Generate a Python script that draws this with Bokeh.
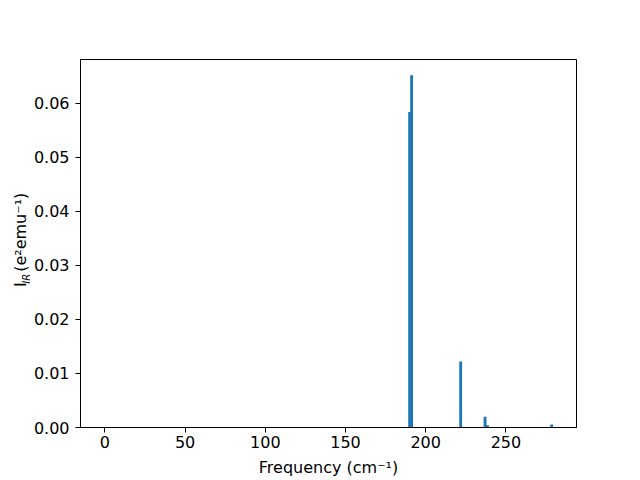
from math import pi
from bokeh.plotting import figure
from bokeh.layouts import row
from bokeh.models import Range1d, FixedTicker, NumeralTickFormatter, ColumnDataSource
from bokeh.core.properties import value
from bokeh.embed import file_html
from bokeh.resources import INLINE

# Data
freqs = [0.0, 190.0, 191.2, 221.8, 237.0, 238.5, 278.5]
intensities = [0.0, 0.0584, 0.0652, 0.0122, 0.0020, 0.0004, 0.00056]
x_ticks = [0, 50, 100, 150, 200, 250]
y_ticks = [0.00, 0.01, 0.02, 0.03, 0.04, 0.05, 0.06]
x_label = "Frequency (cm\u207b\u00b9)"
y_label_main = "I"
y_label_sub = "IR"
y_label_rest = "(e\u00b2emu\u207b\u00b9)"

FONT = "DejaVu Sans"
FS = "16px"

# ---- narrow panel holding the rotated y-axis title (pixel-like coordinates) ----
lab = figure(width=30, height=480, output_backend="svg", toolbar_location=None,
             x_range=Range1d(0, 30), y_range=Range1d(0, 480),
             x_axis_location=None, y_axis_location=None, min_border=0)
lab.outline_line_color = None
lab.xgrid.visible = False
lab.ygrid.visible = False
lab.background_fill_color = "white"
lab.border_fill_color = "white"
lab.text(x=[20, 20], y=[183.4, 203], text=[y_label_main, y_label_rest], angle=pi / 2,
         text_font=value(FONT), text_font_size=value(FS), text_color="black",
         text_baseline="alphabetic", text_align="left")
lab.text(x=[25.5], y=[187.5], text=[y_label_sub], angle=pi / 2,
         text_font=value(FONT), text_font_size=value("10px"), text_font_style="italic",
         text_color="black", text_baseline="alphabetic", text_align="left")

# ---- main plot ----
src = ColumnDataSource(dict(x=freqs, top=intensities))

p = figure(width=610, height=480, output_backend="svg", toolbar_location=None,
           x_range=Range1d(-15.2, 294.0), y_range=Range1d(0, 0.0681),
           min_border_left=50, min_border_right=64, min_border_top=59,
           min_border_bottom=53)
p.background_fill_color = "white"
p.border_fill_color = "white"
p.outline_line_color = "black"
p.outline_line_width = 1
p.xgrid.visible = False
p.ygrid.visible = False

p.vbar(x="x", top="top", bottom=0, width=1.8, source=src,
       fill_color="#1f77b4", line_color=None)

for ax in (p.xaxis[0], p.yaxis[0]):
    ax.axis_line_color = "black"
    ax.major_tick_line_color = "black"
    ax.major_tick_out = 5
    ax.major_tick_in = 0
    ax.minor_tick_line_color = None
    ax.major_label_text_font = FONT
    ax.major_label_text_font_size = FS
    ax.major_label_text_color = "black"

p.xaxis.major_label_standoff = 3
p.yaxis.major_label_standoff = 6
p.xaxis.ticker = FixedTicker(ticks=x_ticks)
p.yaxis.ticker = FixedTicker(ticks=y_ticks)
p.yaxis.formatter = NumeralTickFormatter(format="0.00")

p.xaxis.axis_label = x_label
p.xaxis.axis_label_text_font = FONT
p.xaxis.axis_label_text_font_size = FS
p.xaxis.axis_label_text_font_style = "normal"
p.xaxis.axis_label_text_color = "black"
p.xaxis.axis_label_standoff = 7

layout = row(lab, p, spacing=0)
open("out.html", "w").write(file_html(layout, INLINE))
